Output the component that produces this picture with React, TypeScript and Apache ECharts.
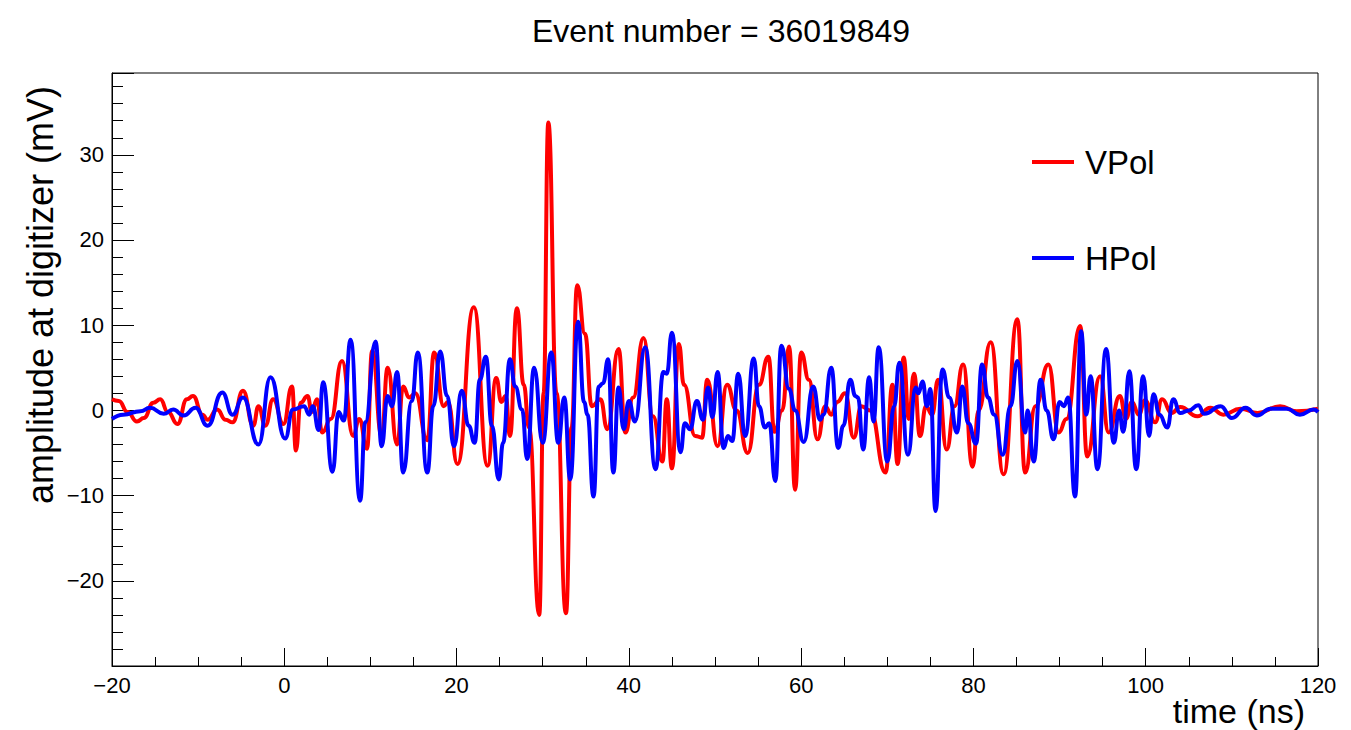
import React, { useEffect, useRef } from "react";
import * as echarts from "echarts";

const titleText = "Event number = 36019849";
const xTitle = "time (ns)";
const yTitle = "amplitude at digitizer (mV)";
const seriesNames = ["VPol", "HPol"];

// VPol (red) waveform, sampled at its turning points
const vpolT = [-20, -19.2, -18.2, -17.1, -16.3, -15.2, -14.4, -13.5, -12.4, -11.3, -10.6, -9.5, -8.9, -7.8, -6.8, -6.0, -4.8, -3.6, -3.0, -2.2, -1.3, -0.1, 0.9, 1.35, 1.9, 2.7, 3.2, 3.8, 4.4, 5.4, 6.7, 8.0, 8.7, 9.6, 10.2, 11.3, 12.0, 13.1, 13.8, 14.5, 15.2, 16.6, 17.4, 18.5, 19.0, 20.1, 22.0, 23.6, 24.6, 25.2, 25.7, 26.2, 27.0, 27.8, 28.4, 29.6, 30.1, 30.65, 31.6, 32.7, 33.35, 34.0, 34.9, 35.7, 36.7, 37.5, 38.8, 39.6, 40.5, 41.7, 42.8, 43.9, 44.4, 45.0, 45.8, 46.4, 47.7, 48.5, 49.1, 50.3, 51.4, 52.5, 53.8, 55.1, 56.2, 56.9, 57.8, 58.6, 59.3, 60.0, 60.9, 61.9, 62.8, 63.5, 64.2, 65.1, 66.1, 67.0, 68.0, 69.8, 70.6, 71.2, 71.9, 72.5, 73.1, 73.8, 74.5, 75.2, 75.9, 76.9, 77.8, 78.8, 79.9, 80.6, 82.0, 83.5, 85.1, 86.0, 87.2, 88.7, 89.9, 90.8, 92.4, 93.2, 94.7, 95.7, 97.0, 97.7, 98.4, 99.2, 99.9, 101.1, 101.9, 103.0, 104.0, 106.0, 107.5, 109.0, 111.0, 113.0, 115.6, 117.5, 120];
const vpolV = [1.3, 1.1, -0.2, -1.3, -0.9, 0.9, 1.3, -0.2, -1.6, 1.3, 1.7, -0.5, -1.1, 0.1, -1.1, -1.4, 2.3, -1.8, 0.5, -1.8, 1.3, -1.6, 2.8, -4.7, 0.9, 1.7, -0.2, 1.3, -2.6, -1.0, 5.8, -3.0, -1.0, -4.5, 7.0, -3.0, 5.0, -4.0, 2.8, 1.5, 2.0, -3.5, 6.8, 0.5, 1.0, -6.3, 12.1, -6.5, 3.8, 1.0, 1.7, -3.0, 12.0, 3.0, -2.0, -24.0, 2.0, 33.8, 2.0, -23.8, -2.0, 14.7, 9.0, 0.5, 1.3, -2.2, 7.2, -2.6, 1.5, 8.5, -0.7, -6.0, 1.3, -6.8, 7.8, 3.0, -3.0, -3.2, 3.6, -4.2, 3.0, 0.0, -5.0, 3.0, 6.3, -2.5, 0.0, 7.5, -9.3, 6.8, 3.6, -3.4, 0.5, -0.5, 1.0, 2.0, -3.2, 0.5, 0.0, -7.3, 3.0, -6.3, 6.2, -1.0, 4.3, -3.0, 0.5, -0.5, 3.6, -4.6, 0.5, 5.4, -6.6, 0.0, 8.0, -7.5, 10.7, -7.3, 0.5, 5.4, -2.6, -1.0, 9.9, -5.4, 4.0, -2.6, 1.7, -1.0, 1.0, -0.5, 1.2, -1.4, 1.3, -0.3, 0.4, -0.7, 0.3, -0.5, 0.2, -0.3, 0.5, -0.1, 0.2];

// HPol (blue) waveform, sampled at its turning points
const hpolT = [-20, -18.7, -16.7, -15.6, -14.0, -12.9, -11.7, -10.3, -8.9, -7.2, -6.0, -4.8, -3.0, -1.6, 0.1, 1.0, 2.3, 2.9, 3.3, 4.0, 4.5, 5.6, 6.3, 6.9, 7.7, 8.8, 9.4, 10.6, 11.3, 12.0, 12.5, 13.1, 13.8, 14.8, 15.5, 16.6, 17.3, 18.1, 18.9, 19.7, 20.6, 21.4, 22.1, 22.7, 23.4, 24.1, 24.9, 25.4, 26.2, 26.8, 27.6, 28.2, 29.0, 30.0, 31.0, 31.8, 32.5, 33.2, 34.1, 34.8, 35.2, 35.9, 36.5, 37.0, 37.6, 38.2, 38.8, 39.4, 40.0, 40.7, 41.9, 43.1, 44.0, 44.4, 45.0, 46.0, 46.5, 47.1, 47.9, 48.6, 49.2, 49.7, 50.3, 51.0, 51.5, 52.0, 52.7, 53.5, 54.5, 55.1, 55.8, 56.3, 57.0, 57.7, 58.6, 59.3, 60.3, 61.4, 62.2, 62.6, 63.5, 64.3, 64.9, 65.7, 66.3, 66.6, 67.2, 67.9, 68.4, 69.0, 70.0, 70.8, 71.4, 72.4, 73.3, 73.6, 74.1, 74.6, 75.0, 75.6, 76.4, 77.2, 78.1, 78.7, 79.4, 80.3, 81.0, 81.7, 82.4, 83.4, 84.3, 85.1, 86.0, 86.3, 87.0, 87.8, 88.5, 89.3, 90.0, 90.5, 91.0, 91.8, 92.5, 93.1, 93.6, 94.4, 95.4, 96.3, 96.9, 97.4, 98.1, 98.9, 99.7, 100.4, 100.9, 101.6, 102.5, 103.2, 104.0, 105.0, 106.1, 106.8, 108.7, 110.0, 111.6, 112.9, 114.5, 116.4, 117.9, 119.5, 120];
const hpolV = [-1.0, -0.5, -0.1, 0.3, -0.4, 0.1, -0.6, 0.3, -1.8, 2.1, -0.5, 1.5, -4.0, 3.9, -3.3, 0.1, 0.5, -0.5, 0.5, -2.3, 3.3, -7.2, -0.2, -1.2, 8.3, -10.6, -1.4, 8.1, -4.2, 1.7, 0.5, 4.5, -7.3, 1.1, 6.8, -7.3, 0.5, 6.9, 1.7, -4.2, 2.3, -1.8, -3.8, 3.6, 6.3, -1.8, -8.1, -3.8, 6.0, 2.8, 0.1, -5.7, 5.0, -3.8, 6.8, -3.8, 1.5, -8.1, 10.4, 1.0, -0.5, -10.1, 2.8, 3.2, 6.0, -7.3, 2.7, -2.2, 1.1, -1.3, 7.4, -6.9, 4.5, 4.3, 9.1, -4.9, -1.5, -2.2, 1.1, -1.1, 2.7, -0.8, 4.5, -4.4, -3.0, -3.6, 4.3, -3.0, 6.1, 0.5, -2.0, -1.5, -8.3, 7.6, 2.5, 0.0, -3.7, 2.8, -1.1, -0.5, 5.0, -4.4, -1.8, 3.6, 1.7, 1.5, -4.6, 3.9, -1.3, 7.4, -6.0, 0.5, 5.6, -5.2, 2.7, 2.0, 3.4, 0.5, 2.5, -11.8, 4.8, 1.5, -2.6, 2.8, -1.5, -3.9, 5.4, 1.5, -0.5, -5.2, 0.5, 5.8, -2.6, 0.0, -6.0, 3.6, 0.0, -3.4, 1.0, 0.5, 1.5, -10.1, 9.3, -0.5, 4.0, -6.9, 7.2, -3.8, 0.0, -2.5, 4.6, -6.9, 4.0, -3.0, 1.9, -0.5, -2.0, 1.3, -0.3, 0.0, 0.6, -0.4, 0.5, -0.9, 0.3, -0.6, 0.2, 0.2, -0.5, 0.1, -0.2];

const FONT = "'Liberation Sans', Arial, Helvetica, sans-serif";

function fmtTick(v: number): string {
  return v < 0 ? "\u2212" + Math.abs(v) : String(v);
}

export default function App() {
  const ref = useRef<HTMLDivElement>(null);
  useEffect(() => {
    if (!ref.current) return;
    const chart = echarts.init(ref.current, undefined, { renderer: "svg" });
    const vpol = vpolT.map((t, i) => [t, vpolV[i]]);
    const hpol = hpolT.map((t, i) => [t, hpolV[i]]);
    chart.setOption({
      animation: false,
      backgroundColor: "#ffffff",
      textStyle: { fontFamily: FONT },
      title: {
        text: titleText,
        left: 716,
        top: 10,
        textAlign: "center",
        textStyle: { fontFamily: FONT, fontSize: 32, fontWeight: "normal", color: "#000" },
      },
      legend: {
        data: seriesNames,
        orient: "vertical",
        left: 1027,
        top: 140,
        itemWidth: 42,
        itemHeight: 4,
        itemGap: 62,
        icon: "rect",
        textStyle: { fontFamily: FONT, fontSize: 33, color: "#000", lineHeight: 34, padding: [0, 0, 0, 6] },
      },
      grid: {
        left: 112,
        right: 33,
        top: 73,
        bottom: 64,
        show: true,
        borderColor: "#000",
        borderWidth: 1,
        containLabel: false,
      },
      xAxis: {
        type: "value",
        min: -20,
        max: 120,
        interval: 20,
        axisLine: { show: true, onZero: false, lineStyle: { color: "#000", width: 1 } },
        axisTick: { show: true, inside: true, length: 18, lineStyle: { color: "#000", width: 1 } },
        minorTick: { show: true, splitNumber: 4, length: 9, lineStyle: { color: "#000", width: 1 } },
        splitLine: { show: false },
        axisLabel: { fontFamily: FONT, fontSize: 22, color: "#000", margin: 8, formatter: fmtTick },
      },
      yAxis: {
        type: "value",
        min: -30,
        max: 39.6,
        interval: 10,
        axisLine: { show: true, onZero: false, lineStyle: { color: "#000", width: 1 } },
        axisTick: { show: true, inside: true, length: 22, lineStyle: { color: "#000", width: 1 } },
        minorTick: { show: true, splitNumber: 5, length: 11, lineStyle: { color: "#000", width: 1 } },
        splitLine: { show: false },
        axisLabel: {
          fontFamily: FONT,
          fontSize: 22,
          color: "#000",
          margin: 8,
          showMinLabel: false,
          showMaxLabel: false,
          formatter: fmtTick,
        },
      },
      graphic: [
        {
          type: "text",
          x: 40,
          y: 295,
          rotation: Math.PI / 2,
          style: {
            text: yTitle,
            fontFamily: FONT,
            fontSize: 36,
            fill: "#000",
            align: "center",
            verticalAlign: "middle",
          },
        },
        {
          type: "text",
          x: 1305,
          y: 711,
          style: {
            text: xTitle,
            fontFamily: FONT,
            fontSize: 34,
            fill: "#000",
            align: "right",
            verticalAlign: "middle",
          },
        },
      ],
      series: [
        {
          name: seriesNames[0],
          type: "line",
          data: vpol,
          showSymbol: false,
          smooth: 0.5,
          smoothMonotone: "x",
          color: "#ff0000",
          lineStyle: { color: "#ff0000", width: 4 },
          z: 2,
        },
        {
          name: seriesNames[1],
          type: "line",
          data: hpol,
          showSymbol: false,
          smooth: 0.5,
          smoothMonotone: "x",
          color: "#0000ff",
          lineStyle: { color: "#0000ff", width: 4 },
          z: 3,
        },
      ],
    });
    return () => chart.dispose();
  }, []);
  return (
    <div
      ref={ref}
      style={{ position: "absolute", left: 0, top: 0, width: 1351, height: 730, background: "#fff" }}
    />
  );
}
